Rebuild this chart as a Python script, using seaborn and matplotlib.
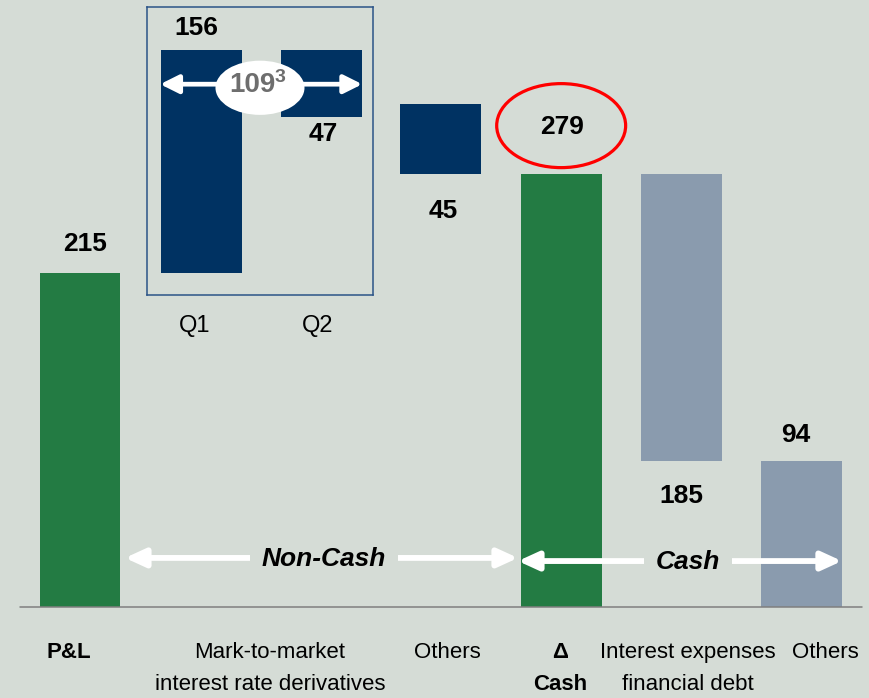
import numpy as np
import pandas as pd
import matplotlib
matplotlib.use("Agg")
import matplotlib.pyplot as plt
from matplotlib.patches import Ellipse, FancyArrowPatch
import seaborn as sns

# ---------------------------------------------------------------
# data: waterfall from P&L to change in cash
# ---------------------------------------------------------------
step_names = ["P&L", "Q1", "Q2", "Others", "Δ Cash", "Interest expenses", "Others"]
step_values = [215, 156, -47, -45, 279, -185, -94]
step_kind = ["total", "noncash", "noncash", "noncash", "total", "cash", "cash"]
step_pos = [0, 1, 2, 3, 4, 5, 6]
inset_steps = ["Q1", "Q2"]          # drawn in the zoom box

cat_lines = [("P&L", ""), ("Mark-to-market", "interest rate derivatives"),
             ("Others", ""), ("Δ", "Cash"), ("Interest expenses", "financial debt"),
             ("Others", "")]
cat_bold = [True, False, False, True, False, False]

BG = "#D5DCD6"
COLORS = {"total": "#237B43", "noncash": "#003262", "cash": "#8A9BAE"}

# waterfall levels
bottoms, heights, level = [], [], 0
for v, k in zip(step_values, step_kind):
    if k == "total":
        bottoms.append(0)
        heights.append(v)
        level = v
    else:
        bottoms.append(min(level, level + v))
        heights.append(abs(v))
        level += v

df = pd.DataFrame({"name": step_names, "pos": step_pos, "value": step_values,
                   "kind": step_kind, "bottom": bottoms, "height": heights})
df["inset"] = df["name"].isin(inset_steps)

sns.set_theme(style="white")
plt.rcParams["font.family"] = ["Liberation Sans", "DejaVu Sans"]
NARROW = ["Liberation Sans Narrow", "Liberation Sans", "DejaVu Sans"]

fig = plt.figure(figsize=(8.69, 6.98), dpi=100)
fig.patch.set_facecolor(BG)
ax = fig.add_axes([0, 0, 1, 1])
ax.set_facecolor(BG)

# main bars
main = df[~df["inset"]]
sns.barplot(x=main["pos"].astype(float), y=main["height"], bottom=main["bottom"].values,
            native_scale=True, errorbar=None, width=0.673, saturation=1,
            color=COLORS["total"], ax=ax, zorder=2)
for patch, k in zip(ax.patches, main["kind"]):
    patch.set_facecolor(COLORS[k])
    patch.set_edgecolor("none")

ax.set_xlim(-0.665, 6.559)
ax.set_ylim(-58.6, 390.9)
ax.set_axis_off()
ax.axhline(0, xmin=0.023, xmax=0.992, color="#7F7F7F", lw=1.1, zorder=3)

# zoom box with the two quarters (own y scale)
axi = fig.add_axes([0.1692, 0.5774, 0.2601, 0.4126])
axi.set_facecolor("none")
ins = df[df["inset"]]
sns.barplot(x=ins["pos"].astype(float), y=ins["height"], bottom=ins["bottom"].values,
            native_scale=True, errorbar=None, width=0.673, saturation=1,
            color=COLORS["noncash"], ax=axi, zorder=2)
for patch in axi.patches:
    patch.set_facecolor(COLORS["noncash"])
    patch.set_edgecolor("none")
axi.set_xlim(1 - 0.449, 1 + 1.430)
axi.set_ylim(199.6, 401.0)
axi.set_xticks([])
axi.set_yticks([])
axi.set_xlabel("")
axi.set_ylabel("")
for s in axi.spines.values():
    s.set_visible(True)
    s.set_color("#2B5487")
    s.set_linewidth(1.1)

# net of the quarters
net_q = int(ins["value"].sum())
axi.add_patch(FancyArrowPatch((0.66, 347), (2.34, 347), arrowstyle="<|-|>,head_length=11,head_width=5.5",
                              mutation_scale=1, color="white", lw=3.4, shrinkA=0, shrinkB=0, zorder=4))
axi.add_patch(Ellipse((1.49, 344.5), 0.74, 37.9, facecolor="white", edgecolor="none", zorder=5))
axi.text(1.424, 346.5, str(net_q), ha="center", va="center", fontsize=20,
         fontweight="bold", color="#6E6E6E", zorder=6)
axi.text(1.655, 351.5, "3", ha="center", va="center", fontsize=14,
         fontweight="bold", color="#6E6E6E", zorder=6)

# value labels (anchor at bar end, offset in points)
label_anchor = ["top", "top", "bottom", "bottom", "top", "bottom", "top"]
label_offset = [(3.6, 21), (-3.6, 15.5), (1.5, -12), (1.5, -26.6), (1, 33.8), (0, -25.2), (-4.3, 18.7)]
for i, row in df.iterrows():
    y = row["bottom"] + row["height"] if label_anchor[i] == "top" else row["bottom"]
    target = axi if row["inset"] else ax
    target.annotate(str(abs(row["value"])), (row["pos"], y), xytext=label_offset[i],
                    textcoords="offset points", ha="center", va="center",
                    fontsize=19, fontweight="bold", color="black", zorder=6,
                    annotation_clip=False)

# red circle round the cash total
ax.add_patch(Ellipse((4.0, 279 + 31), 1.072, 54.1, facecolor="none",
                     edgecolor="#FF0000", lw=2.3, zorder=6))

# quarter tick labels under the box
for name, x in zip(inset_steps, [0.956, 1.978]):
    ax.text(x, 181, name, ha="center", va="center", fontsize=17, color="black")

# Non-Cash / Cash spans
for (x0, x1, y, txt, tx) in [(0.374, 3.641, 31.6, "Non-Cash", 2.028),
                              (3.641, 6.334, 29.6, "Cash", 5.054)]:
    ax.add_patch(FancyArrowPatch((x0, y), (x1, y), arrowstyle="<|-|>,head_length=12,head_width=5.5",
                                 mutation_scale=1, color="white", lw=4.2, shrinkA=0, shrinkB=0, zorder=4))
    ax.text(tx, y - 0.5, txt, ha="center", va="center", fontsize=19, fontweight="bold",
            fontstyle="italic", color="black", zorder=5,
            bbox=dict(boxstyle="square,pad=0.45", facecolor=BG, edgecolor="none"))

# category labels
cat_x = [-0.091, 1.579, 3.051, 3.99, 5.055, 6.193]
for x, (l1, l2), b in zip(cat_x, cat_lines, cat_bold):
    w = "bold" if b else "normal"
    ax.text(x, -29.6, l1, ha="center", va="center", fontsize=16, fontweight=w,
            family=NARROW, color="black")
    if l2:
        ax.text(x, -50.2, l2, ha="center", va="center", fontsize=16, fontweight=w,
                family=NARROW, color="black")

plt.savefig("out.png", dpi=100, facecolor=BG)
